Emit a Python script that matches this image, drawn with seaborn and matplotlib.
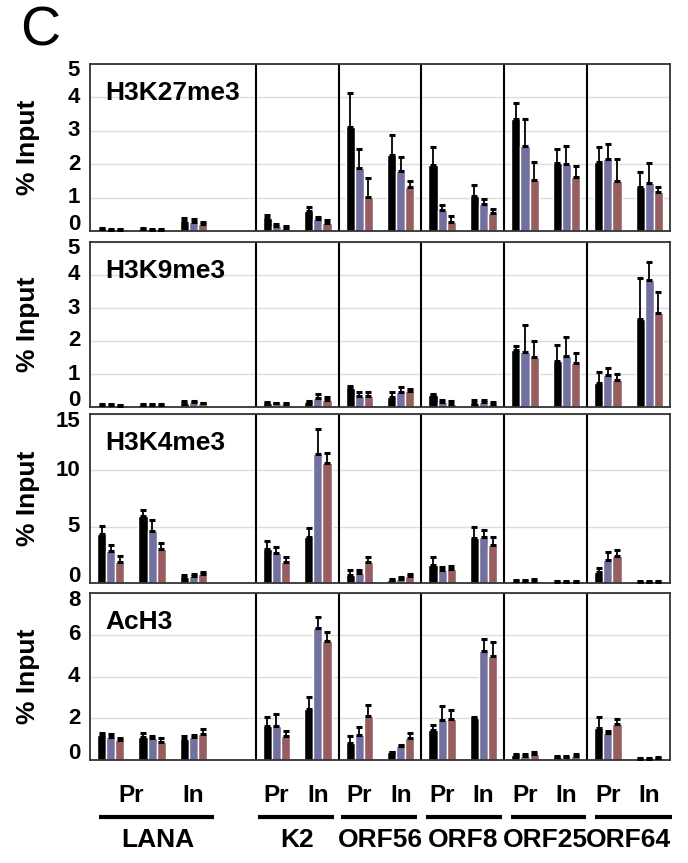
import numpy as np
import pandas as pd
import matplotlib
matplotlib.use('Agg')
import matplotlib.pyplot as plt
import matplotlib.transforms as mtransforms
import seaborn as sns

# slots along x (LANA has 3 bar groups + one empty slot)
slots = ['LANA1', 'LANA2', 'LANA3', 'LANA4',
         'K2 Pr', 'K2 In', 'ORF56 Pr', 'ORF56 In', 'ORF8 Pr', 'ORF8 In',
         'ORF25 Pr', 'ORF25 In', 'ORF64 Pr', 'ORF64 In']
series = ['s1', 's2', 's3']
series_colors = ['#000000', '#6a68a6', '#a05558']
used_slots = [s for s in slots if s != 'LANA4']

# values per series (one entry per used slot) and error bar tops
k27_val = [[0.05, 0.05, 0.30, 0.38, 0.61, 3.12, 2.27, 1.98, 1.06, 3.36, 2.05, 2.06, 1.33],
           [0.04, 0.04, 0.28, 0.16, 0.35, 1.88, 1.79, 0.62, 0.80, 2.54, 2.01, 2.16, 1.43],
           [0.04, 0.04, 0.22, 0.10, 0.25, 1.03, 1.32, 0.28, 0.54, 1.53, 1.61, 1.49, 1.18]]
k27_top = [[0.08, 0.08, 0.38, 0.48, 0.73, 4.14, 2.87, 2.52, 1.37, 3.84, 2.46, 2.50, 1.78],
           [0.07, 0.07, 0.35, 0.20, 0.43, 2.45, 2.22, 0.78, 0.97, 3.34, 2.54, 2.60, 2.03],
           [0.07, 0.07, 0.28, 0.16, 0.33, 1.58, 1.51, 0.45, 0.67, 2.06, 1.95, 2.16, 1.31]]

k9_val = [[0.06, 0.05, 0.12, 0.13, 0.14, 0.57, 0.30, 0.35, 0.13, 1.74, 1.40, 0.73, 2.68],
          [0.05, 0.05, 0.14, 0.11, 0.26, 0.34, 0.44, 0.14, 0.15, 1.68, 1.54, 0.98, 3.84],
          [0.04, 0.05, 0.11, 0.10, 0.22, 0.34, 0.49, 0.10, 0.10, 1.53, 1.33, 0.81, 2.85]]
k9_top = [[0.09, 0.08, 0.17, 0.16, 0.19, 0.64, 0.45, 0.38, 0.20, 1.86, 1.89, 1.07, 3.92],
          [0.08, 0.08, 0.17, 0.13, 0.40, 0.44, 0.62, 0.20, 0.21, 2.49, 2.13, 1.17, 4.39],
          [0.07, 0.08, 0.13, 0.13, 0.30, 0.44, 0.55, 0.17, 0.14, 2.01, 1.64, 0.99, 3.48]]

k4_val = [[4.35, 5.92, 0.57, 3.04, 4.10, 0.71, 0.27, 1.61, 4.02, 0.20, 0.10, 1.01, 0.10],
          [2.86, 4.64, 0.65, 2.68, 11.49, 0.92, 0.36, 1.19, 4.08, 0.20, 0.10, 2.02, 0.10],
          [1.90, 3.00, 0.77, 1.88, 10.68, 1.88, 0.63, 1.22, 3.39, 0.22, 0.10, 2.38, 0.10]]
k4_top = [[5.06, 6.52, 0.74, 3.69, 4.85, 1.13, 0.39, 2.32, 5.00, 0.30, 0.15, 1.37, 0.15],
          [3.33, 5.63, 0.77, 3.21, 13.63, 1.13, 0.54, 1.43, 4.73, 0.30, 0.15, 2.71, 0.15],
          [2.41, 3.57, 1.00, 2.35, 11.58, 2.32, 0.83, 1.49, 4.05, 0.32, 0.15, 2.95, 0.15]]

ac_val = [[1.18, 1.09, 0.99, 1.63, 2.43, 0.83, 0.37, 1.44, 2.00, 0.24, 0.13, 1.54, 0.06],
          [1.09, 1.07, 1.09, 1.63, 6.32, 1.18, 0.67, 1.92, 5.23, 0.21, 0.16, 1.31, 0.06],
          [0.96, 0.88, 1.26, 1.15, 5.71, 2.11, 1.06, 1.95, 4.96, 0.29, 0.21, 1.73, 0.10]]
ac_top = [[1.28, 1.28, 1.17, 2.08, 3.04, 1.15, 0.40, 1.66, 2.08, 0.30, 0.17, 2.08, 0.09],
          [1.23, 1.15, 1.20, 2.19, 6.83, 1.60, 0.74, 2.61, 5.78, 0.27, 0.20, 1.41, 0.09],
          [1.07, 1.06, 1.49, 1.39, 6.11, 2.62, 1.30, 2.40, 5.65, 0.38, 0.27, 1.98, 0.14]]

panel_names = ['H3K27me3', 'H3K9me3', 'H3K4me3', 'AcH3']
panel_vals = [k27_val, k9_val, k4_val, ac_val]
panel_tops = [k27_top, k9_top, k4_top, ac_top]
panel_ylim = [5, 5, 15, 8]
panel_yticks = [[0, 1, 2, 3, 4, 5], [0, 1, 2, 3, 4, 5], [0, 5, 10, 15], [0, 2, 4, 6, 8]]

pr_in_labels = [('Pr', 0.5), ('In', 2), ('Pr', 4), ('In', 5), ('Pr', 6), ('In', 7),
                ('Pr', 8), ('In', 9), ('Pr', 10), ('In', 11), ('Pr', 12), ('In', 13)]
genes = ['LANA', 'K2', 'ORF56', 'ORF8', 'ORF25', 'ORF64']
gene_lines = [(-0.29, 2.49), (3.55, 5.38), (5.55, 7.4), (7.6, 9.45), (9.65, 11.47), (11.7, 13.55)]
gene_label_x = [1.14, 4.5, 6.5, 8.5, 10.5, 12.5]

sns.set_style('white')
plt.rcParams['font.family'] = ['Liberation Sans', 'DejaVu Sans']
plt.rcParams['font.weight'] = 'bold'
plt.rcParams['text.color'] = 'black'
plt.rcParams['axes.labelcolor'] = 'black'

fig = plt.figure(figsize=(6.88, 8.63), dpi=100)
W, H = 688, 863
left, right = 90, 670
panel_px = [(64, 231), (242, 407), (414, 583), (593, 760)]

for i in range(4):
    top, bot = panel_px[i]
    ax = fig.add_axes([left / W, 1 - bot / H, (right - left) / W, (bot - top) / H])

    rows = []
    for si, s in enumerate(series):
        for ci, slot in enumerate(used_slots):
            rows.append({'slot': slot, 'series': s,
                         'value': panel_vals[i][si][ci],
                         'err': panel_tops[i][si][ci] - panel_vals[i][si][ci]})
    df = pd.DataFrame(rows)

    sns.barplot(data=df, x='slot', y='value', hue='series', order=slots,
                hue_order=series, palette=series_colors, width=0.66,
                errorbar=None, legend=False, ax=ax, zorder=2)

    # upper error bars at each bar center
    bar_conts = list(ax.containers)
    for si, cont in enumerate(bar_conts):
        sub = df[df['series'] == series[si]].set_index('slot')
        xs, ys, es = [], [], []
        for bar in cont:
            cx = bar.get_x() + bar.get_width() / 2
            slot = slots[int(round(cx))]
            if slot not in sub.index:
                continue
            xs.append(cx)
            ys.append(bar.get_height())
            es.append(sub.loc[slot, 'err'])
        ax.errorbar(xs, ys, yerr=[np.zeros(len(es)), es], fmt='none',
                    ecolor='black', elinewidth=1.3, capsize=2.5, capthick=2.2, zorder=3)

    ax.set_xlim(-0.5, len(slots) - 0.5)
    ax.set_ylim(0, panel_ylim[i])
    ax.set_yticks(panel_yticks[i])
    ax.set_yticklabels([])
    # y tick labels as text, first/last nudged inward like the original
    ytr = ax.get_yaxis_transform()
    nt = len(panel_yticks[i])
    for k, t in enumerate(panel_yticks[i]):
        dy = 7 if k == 0 else (-7 if k == nt - 1 else 0)
        off = mtransforms.ScaledTranslation(0, dy / 100, fig.dpi_scale_trans)
        ax.text(-0.017, t, str(t), transform=ytr + off, ha='right', va='center',
                fontsize=16, fontweight='bold')
    ax.set_xticks(np.arange(-0.5, len(slots), 1))
    ax.set_xticklabels([])
    ax.tick_params(axis='both', direction='out', length=3, width=1, color='#333333', pad=4)
    ax.yaxis.grid(True, color='#dddddd', linewidth=1, zorder=0)
    ax.set_axisbelow(True)
    for sp in ax.spines.values():
        sp.set_color('#333333')
        sp.set_linewidth(1.3)
    for b in [3.5, 5.5, 7.5, 9.5, 11.5]:
        ax.axvline(b, color='black', linewidth=1.5, zorder=1)

    ax.set_xlabel('')
    ax.set_ylabel('% Input', fontsize=19, fontweight='bold')
    ax.yaxis.set_label_coords(-0.086, 0.5)
    ax.text(0.026, 0.9, panel_names[i], transform=ax.transAxes, fontsize=19,
            fontweight='bold', va='top', ha='left')

    if i == 3:
        tr = ax.get_xaxis_transform()
        for lab, x in pr_in_labels:
            ax.text(x, -0.21, lab, transform=tr, ha='center', va='center',
                    fontsize=17.5, fontweight='bold')
        for (x0, x1) in gene_lines:
            ax.plot([x0, x1], [-0.34, -0.34], transform=tr, color='black',
                    linewidth=3, clip_on=False, solid_capstyle='butt')
        for g, x in zip(genes, gene_label_x):
            ax.text(x, -0.48, g, transform=tr, ha='center', va='center',
                    fontsize=19, fontweight='bold')

fig.text(20 / W, 1 - 32 / H, 'C', fontsize=40, fontweight='normal',
         ha='left', va='center')

fig.savefig('out.png', dpi=100)
